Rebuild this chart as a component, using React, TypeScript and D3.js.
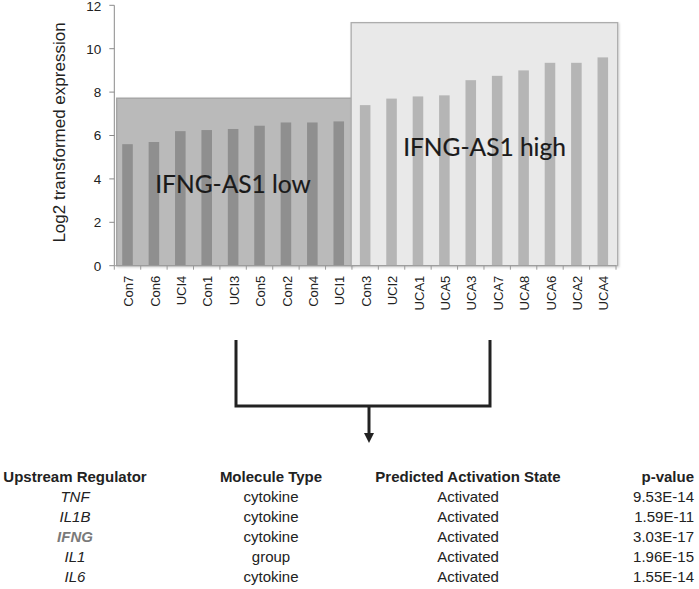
import React from 'react';
import * as d3 from 'd3';

const categories = ['Con7', 'Con6', 'UCI4', 'Con1', 'UCI3', 'Con5', 'Con2', 'Con4', 'UCI1', 'Con3', 'UCI2', 'UCA1', 'UCA5', 'UCA3', 'UCA7', 'UCA8', 'UCA6', 'UCA2', 'UCA4'];
const values = [5.6, 5.7, 6.2, 6.25, 6.3, 6.45, 6.6, 6.6, 6.65, 7.4, 7.7, 7.8, 7.85, 8.55, 8.75, 9.0, 9.35, 9.35, 9.6];
const groupNames = ['IFNG-AS1 low', 'IFNG-AS1 high'];
const groupCounts = [9, 10];
const groupTops = [7.72, 11.2];
const yTicks = [0, 2, 4, 6, 8, 10, 12];
const yTitle = 'Log2 transformed expression';

const tableHeaders = ['Upstream Regulator', 'Molecule Type', 'Predicted Activation State', 'p-value'];
const regulators = ['TNF', 'IL1B', 'IFNG', 'IL1', 'IL6'];
const moleculeTypes = ['cytokine', 'cytokine', 'cytokine', 'group', 'cytokine'];
const activationStates = ['Activated', 'Activated', 'Activated', 'Activated', 'Activated'];
const pValues = ['9.53E-14', '1.59E-11', '3.03E-17', '1.96E-15', '1.55E-14'];

const W = 699;
const H = 589;
const X0 = 114.3;
const X1 = 616;
const Y0 = 265.7;
const Y1 = 5.3;

export default function App() {
  const x = d3.scaleBand<string>().domain(categories).range([X0, X1]).paddingInner(0.6).paddingOuter(0.3);
  const y = d3.scaleLinear().domain([0, 12]).range([Y0, Y1]);
  const step = x.step();
  const boundaries = d3.range(categories.length + 1).map((i) => X0 + i * step);

  const groupStyles = [
    { fill: '#bababa', stroke: '#a3a3a3', bar: '#8f8f8f' },
    { fill: '#e9e9e9', stroke: '#adadad', bar: '#b5b5b5' },
  ];
  let startIdx = 0;
  const groups = groupNames.map((name, gi) => {
    const s = startIdx;
    const e = startIdx + groupCounts[gi];
    startIdx = e;
    return { name, s, e, top: groupTops[gi], style: groupStyles[gi] };
  });
  const labelPos = [
    { cx: 233, by: 193 },
    { cx: 484.5, by: 156 },
  ];

  const colX = [75, 271, 468, 694];
  const colAnchor: ('middle' | 'end')[] = ['middle', 'middle', 'middle', 'end'];
  const headerY = 482;
  const rowStep = 20;
  const tableFont = '"Liberation Sans", Arial, sans-serif';

  return (
    <svg width={W} height={H} style={{ position: 'absolute', left: 0, top: 0, background: '#fff' }}>
      <defs>
        <filter id="sh" x="-5%" y="-5%" width="110%" height="110%">
          <feDropShadow dx="1" dy="1" stdDeviation="1" floodColor="#000" floodOpacity="0.18" />
        </filter>
      </defs>

      {/* group boxes */}
      {groups.map((g, gi) => {
        const left = gi === 0 ? boundaries[g.s] + 2.4 : boundaries[g.s] - 0.8;
        const right = gi === groups.length - 1 ? boundaries[g.e] + 1.7 : boundaries[g.e];
        return (
          <rect
            key={'box' + gi}
            x={left}
            y={y(g.top)}
            width={right - left}
            height={Y0 - y(g.top)}
            fill={g.style.fill}
            stroke={g.style.stroke}
            strokeWidth={1.3}
            filter="url(#sh)"
          />
        );
      })}

      {/* bars */}
      {categories.map((c, i) => {
        const g = groups.find((gg) => i >= gg.s && i < gg.e)!;
        return (
          <rect key={c} x={x(c)} y={y(values[i])} width={x.bandwidth()} height={Y0 - y(values[i])} fill={g.style.bar} />
        );
      })}

      {/* group labels */}
      {groups.map((g, gi) => (
        <text
          key={'gl' + gi}
          x={labelPos[gi].cx}
          y={labelPos[gi].by}
          textAnchor="middle"
          fontFamily="Lato, 'Open Sans', sans-serif"
          fontSize={24.5}
          fill="#1a1a1a"
          stroke="#1a1a1a"
          strokeWidth={0.2}
        >
          {g.name}
        </text>
      ))}

      {/* y axis */}
      <line x1={X0} x2={X0} y1={Y1} y2={Y0} stroke="#8a8a8a" strokeWidth={1} />
      {yTicks.map((t) => (
        <g key={'yt' + t}>
          <line x1={X0 - 5} x2={X0} y1={y(t)} y2={y(t)} stroke="#8a8a8a" strokeWidth={1} />
          <text x={X0 - 13} y={y(t) + (t === 12 ? 0.8 : 0)} dy="0.36em" textAnchor="end" fontFamily='"Liberation Sans", Arial, sans-serif' fontSize={13.5} fill="#222">
            {t}
          </text>
        </g>
      ))}
      <text
        transform={`translate(${65},${(Y0 + Y1) / 2 - 3}) rotate(-90)`}
        textAnchor="middle"
        fontFamily='"Liberation Sans", Arial, sans-serif'
        fontSize={17}
        fill="#222"
      >
        {yTitle}
      </text>

      {/* x axis */}
      <line x1={X0} x2={X1} y1={Y0} y2={Y0} stroke="#9a9a9a" strokeWidth={1} />
      {boundaries.map((b, i) => (
        <line key={'xt' + i} x1={b} x2={b} y1={Y0} y2={Y0 + 4} stroke="#9a9a9a" strokeWidth={1} />
      ))}
      {categories.map((c) => {
        const cx = (x(c) as number) + x.bandwidth() / 2;
        return (
          <text
            key={'xl' + c}
            transform={`translate(${cx + 1},${Y0 + 10}) rotate(-90)`}
            dy="0.36em"
            textAnchor="end"
            fontFamily='"Liberation Sans", Arial, sans-serif'
            fontSize={13}
            fill="#222"
          >
            {c}
          </text>
        );
      })}

      {/* bracket and arrow */}
      <path d="M236,340 L236,406 L490,406 L490,340" fill="none" stroke="#222" strokeWidth={3} strokeLinejoin="miter" />
      <line x1={369} y1={406} x2={369} y2={434} stroke="#222" strokeWidth={3} />
      <path d="M364,433 L374,433 L369,443 Z" fill="#222" />

      {/* table */}
      {tableHeaders.map((h, ci) => (
        <text key={'th' + ci} x={colX[ci]} y={headerY} textAnchor={colAnchor[ci]} fontFamily={tableFont} fontSize={15} fontWeight="bold" fill="#222">
          {h}
        </text>
      ))}
      {regulators.map((r, ri) => {
        const yy = headerY + (ri + 1) * rowStep;
        const isIfng = r === 'IFNG';
        return (
          <g key={'row' + ri}>
            <text x={colX[0]} y={yy} textAnchor="middle" fontFamily={tableFont} fontSize={15} fontStyle="italic" fontWeight={isIfng ? 'bold' : 'normal'} fill={isIfng ? '#7a7a7a' : '#222'}>
              {r}
            </text>
            <text x={colX[1]} y={yy} textAnchor="middle" fontFamily={tableFont} fontSize={15} fill="#222">
              {moleculeTypes[ri]}
            </text>
            <text x={colX[2]} y={yy} textAnchor="middle" fontFamily={tableFont} fontSize={15} fill="#222">
              {activationStates[ri]}
            </text>
            <text x={colX[3]} y={yy} textAnchor="end" fontFamily={tableFont} fontSize={15} fill="#222">
              {pValues[ri]}
            </text>
          </g>
        );
      })}
    </svg>
  );
}
